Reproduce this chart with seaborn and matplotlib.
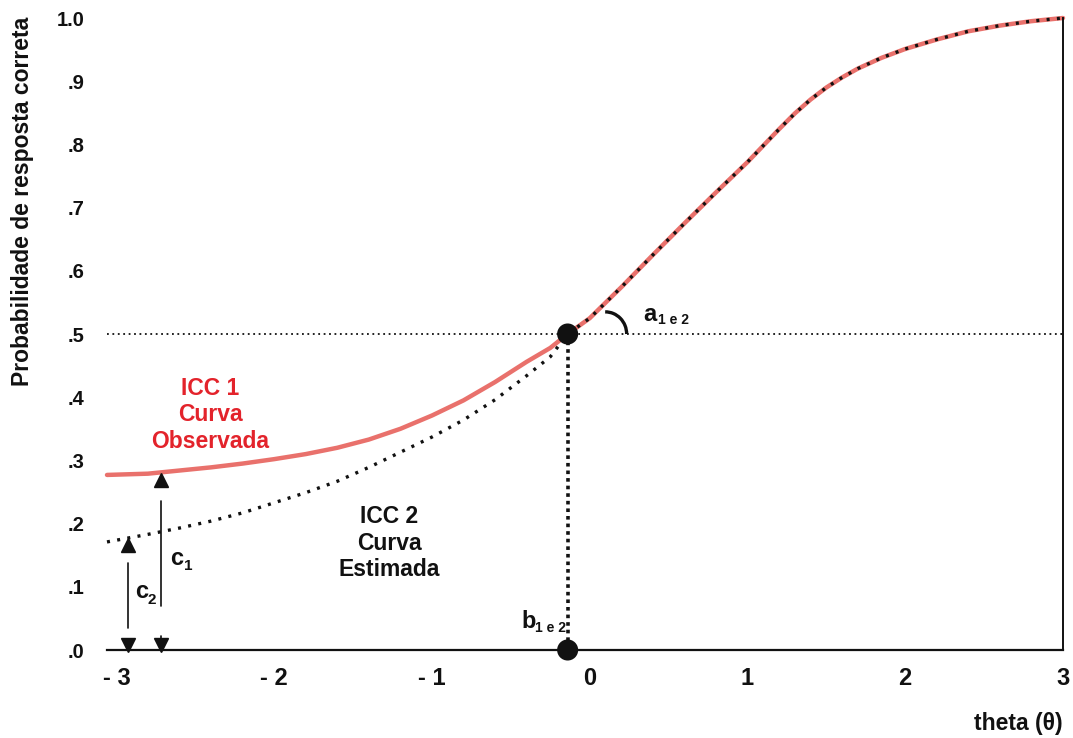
import numpy as np
import pandas as pd
import matplotlib
matplotlib.use("Agg")
import matplotlib.pyplot as plt
import seaborn as sns
from matplotlib.patches import Arc

# Proficiency scale and the two item characteristic curves
theta = [-3.06, -2.8, -2.6, -2.4, -2.2, -2.0, -1.8, -1.6, -1.4, -1.2, -1.0,
         -0.8, -0.6, -0.4, -0.25, -0.14, 0.0, 0.2, 0.4, 0.6, 0.8, 1.0, 1.2,
         1.3, 1.4, 1.5, 1.6, 1.7, 1.85, 2.0, 2.2, 2.4, 2.6, 2.8, 3.0]
icc_observada = [0.277, 0.279, 0.284, 0.289, 0.295, 0.302, 0.310, 0.320, 0.333,
                 0.350, 0.371, 0.395, 0.424, 0.456, 0.478, 0.500, 0.525, 0.574,
                 0.625, 0.675, 0.724, 0.772, 0.824, 0.849, 0.871, 0.890, 0.906,
                 0.920, 0.937, 0.951, 0.966, 0.979, 0.988, 0.995, 1.000]
icc_estimada = [0.171, 0.183, 0.193, 0.204, 0.217, 0.233, 0.249, 0.267, 0.289,
                0.313, 0.337, 0.364, 0.396, 0.434, 0.464, 0.500, 0.525, 0.574,
                0.625, 0.675, 0.724, 0.772, 0.824, 0.849, 0.871, 0.890, 0.906,
                0.920, 0.937, 0.951, 0.966, 0.979, 0.988, 0.995, 1.000]

# Item parameters shown on the chart
b_12 = -0.14          # difficulty (common to both curves)
p_b = 0.5             # probability at theta = b
c1 = 0.269            # lower asymptote, observed curve
c2 = 0.166            # lower asymptote, estimated curve
c1_x, c2_x = -2.72, -2.93

x_ticks = [-3, -2, -1, 0, 1, 2, 3]
x_tick_labels = ["- 3", "- 2", "- 1", "0", "1", "2", "3"]
y_ticks = [0.0, 0.1, 0.2, 0.3, 0.4, 0.5, 0.6, 0.7, 0.8, 0.9, 1.0]
y_tick_labels = [".0", ".1", ".2", ".3", ".4", ".5", ".6", ".7", ".8", ".9", "1.0"]

curves = pd.DataFrame({
    "theta": theta * 2,
    "p": icc_observada + icc_estimada,
    "curva": ["ICC 1"] * len(theta) + ["ICC 2"] * len(theta),
})
pontos = pd.DataFrame({"theta": [b_12, b_12], "p": [p_b, 0.0]})

sns.set_theme(style="white")
plt.rcParams["font.family"] = ["Liberation Sans", "DejaVu Sans"]
plt.rcParams["font.weight"] = "bold"

RED_LINE = "#e9716c"
RED_TEXT = "#e3232b"
INK = "#111111"

fig = plt.figure(figsize=(10.73, 7.38), dpi=100)
ax = fig.add_axes([107 / 1073, 1 - 650 / 738, 956 / 1073, 632 / 738])

# reference line at p = .5
ax.axhline(p_b, color=INK, lw=1.3, ls=(0, (1, 2)), zorder=1)

sns.lineplot(data=curves[curves.curva == "ICC 1"], x="theta", y="p", ax=ax,
             color=RED_LINE, lw=3.2, zorder=2, clip_on=False)
sns.lineplot(data=curves[curves.curva == "ICC 2"], x="theta", y="p", ax=ax,
             color=INK, lw=2.4, ls=(0, (0.9, 2.2)), zorder=3, clip_on=False)

# vertical drop from the inflection point to b
ax.plot([b_12, b_12], [p_b, 0.0], color=INK, lw=2.6, ls=(0, (1, 1.1)), zorder=3)
sns.scatterplot(data=pontos, x="theta", y="p", ax=ax, color=INK, s=230,
                edgecolor="none", zorder=5, clip_on=False)

# slope angle marker
ax.add_patch(Arc((0.099, p_b), 0.27, 0.07, theta1=0, theta2=92,
                 color=INK, lw=2.4, zorder=4))

# lower asymptote dimension markers
ax.plot([c1_x], [c1], marker="^", ms=9.5, color=INK, ls="none", zorder=4)
ax.plot([c1_x, c1_x], [0.235, 0.069], color=INK, lw=1.2, zorder=4)
ax.plot([c1_x, c1_x], [0.022, 0.010], color=INK, lw=1.2, zorder=4)
ax.plot([c1_x], [0.008], marker="v", ms=9.5, color=INK, ls="none", zorder=4,
        clip_on=False)
ax.plot([c2_x], [c2], marker="^", ms=9.5, color=INK, ls="none", zorder=4)
ax.plot([c2_x, c2_x], [0.138, 0.035], color=INK, lw=1.2, zorder=4)
ax.plot([c2_x], [0.008], marker="v", ms=9.5, color=INK, ls="none", zorder=4,
        clip_on=False)

def sub_label(x, y, main, sub, dx, dy, size=17, subsize=10):
    ax.text(x, y, main, fontsize=size, fontweight="bold", color=INK,
            ha="left", va="baseline", zorder=6)
    ax.annotate(sub, (x, y), xytext=(dx, dy), textcoords="offset points",
                fontsize=subsize, fontweight="bold", color=INK,
                ha="left", va="baseline", zorder=6)

sub_label(0.34, 0.521, "a", "1 e 2", 10.5, -2.5)
sub_label(-0.43, 0.035, "b", "1 e 2", 9.5, -3)
sub_label(-2.66, 0.135, "c", "1", 10, -3.5, subsize=11)
sub_label(-2.88, 0.082, "c", "2", 8.5, -4, subsize=11)

ax.text(-2.405, 0.372, "ICC 1\nCurva\nObservada", color=RED_TEXT, fontsize=16.5,
        fontweight="bold", ha="center", va="center", linespacing=1.18)
ax.text(-1.27, 0.169, "ICC 2\nCurva\nEstimada", color=INK, fontsize=16.5,
        fontweight="bold", ha="center", va="center", linespacing=1.18)

ax.set_xlim(-3.06, 3.0)
ax.set_ylim(0, 1.0)
ax.set_xticks(x_ticks)
ax.set_xticklabels(x_tick_labels, fontsize=17, fontweight="bold")
ax.set_yticks(y_ticks)
ax.set_yticklabels(y_tick_labels, fontsize=14.5, fontweight="bold")
ax.tick_params(axis="y", direction="inout", length=10, width=1.4, color=INK,
               pad=11, labelcolor=INK)
ax.tick_params(axis="x", direction="inout", length=10, width=1.4, color=INK,
               pad=7, labelcolor=INK)

for side in ("left", "top"):
    ax.spines[side].set_visible(False)
for side in ("bottom", "right"):
    ax.spines[side].set_visible(True)
    ax.spines[side].set_color(INK)
ax.spines["bottom"].set_linewidth(1.6)
ax.spines["right"].set_linewidth(1.4)

ax.set_xlabel("theta (\u03b8)", fontsize=16.5, fontweight="bold", color=INK)
ax.xaxis.set_label_coords(1.0, -0.098)
ax.xaxis.label.set_horizontalalignment("right")
ax.set_ylabel("Probabilidade de resposta correta", fontsize=16.5,
              fontweight="bold", color=INK)
ax.yaxis.set_label_coords(-0.076, 0.71)

fig.savefig("out.png", dpi=100)
